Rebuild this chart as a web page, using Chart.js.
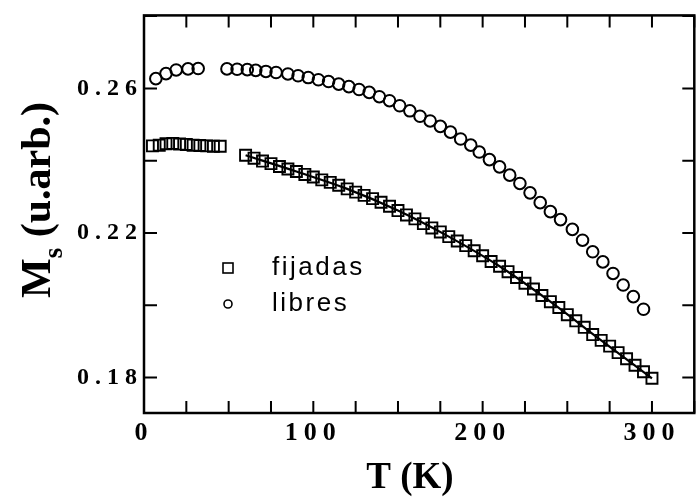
<!DOCTYPE html>
<html>
<head>
<meta charset="utf-8">
<script src="https://cdn.jsdelivr.net/npm/chart.js@4.4.0/dist/chart.umd.min.js"></script>
<style>
  html, body { margin: 0; padding: 0; background: #fff; overflow: hidden; }
</style>
</head>
<body>
<canvas id="grafico" width="704" height="500"></canvas>
<script>
// datos
const T_FIJADAS = [5, 9, 13, 17, 21, 25, 29, 33, 37, 41, 45,
    60, 65, 70, 75, 80, 85, 90, 95, 100, 105, 110, 115, 120, 125, 130, 135,
    140, 145, 150, 155, 160, 165, 170, 175, 180, 185, 190, 195, 200, 205, 210,
    215, 220, 225, 230, 235, 240, 245, 250, 255, 260, 265, 270, 275, 280, 285,
    290, 295, 300];
const M_FIJADAS = [0.2441, 0.2443, 0.2447, 0.2448, 0.2446, 0.2445, 0.2443, 0.2442, 0.2441, 0.2440, 0.2440,
    0.2415, 0.2407, 0.2399, 0.2392, 0.2384, 0.2377, 0.2370, 0.2362, 0.2355, 0.2347, 0.2340, 0.2332, 0.2322, 0.2313, 0.2304, 0.2295,
    0.2285, 0.2274, 0.2262, 0.2250, 0.2239, 0.2226, 0.2214, 0.2203, 0.2190, 0.2178, 0.2165, 0.2151, 0.2137, 0.2121, 0.2108,
    0.2093, 0.2077, 0.2061, 0.2045, 0.2027, 0.2010, 0.1994, 0.1974, 0.1957, 0.1939, 0.1919, 0.1903, 0.1887, 0.1869, 0.1852,
    0.1834, 0.1816, 0.1798];

const T_LIBRES = [7, 13, 19, 26, 32,
    49, 55, 61, 66, 72, 78, 85, 91, 97, 103, 109, 115, 121, 127, 133, 139, 145,
    151, 157, 163, 169, 175, 181, 187, 193, 198, 204, 210, 216, 222, 228, 234,
    240, 246, 253, 259, 265, 271, 277, 283, 289, 295];
const M_LIBRES = [0.2627, 0.2641, 0.2651, 0.2654, 0.2655,
    0.2654, 0.2653, 0.2652, 0.2650, 0.2647, 0.2644, 0.2640, 0.2635, 0.2630, 0.2624, 0.2619, 0.2612, 0.2605, 0.2597, 0.2589, 0.2577, 0.2566,
    0.2552, 0.2538, 0.2523, 0.2510, 0.2495, 0.2479, 0.2460, 0.2443, 0.2424, 0.2403, 0.2383, 0.2360, 0.2337, 0.2311, 0.2284,
    0.2259, 0.2237, 0.2210, 0.2180, 0.2148, 0.2120, 0.2088, 0.2056, 0.2024, 0.1989];

// curva de ajuste sobre las fijadas
const T_AJUSTE = [60, 90, 120, 150, 180, 210, 240, 270, 300];
const M_AJUSTE = [0.2415, 0.2370, 0.2322, 0.2262, 0.2190, 0.2108, 0.2010, 0.1903, 0.1798];

const X_ETIQUETAS = [0, 100, 200, 300];
const Y_ETIQUETAS = [0.18, 0.22, 0.26];

const puntos = (xs, ys) => xs.map((x, i) => ({ x: x, y: ys[i] }));

const SERIF = '"Liberation Serif", "Times New Roman", serif';
const SANS = '"Liberation Sans", Arial, sans-serif';

// marco, marcas hacia dentro, leyenda y titulos
const marcoPlugin = {
    id: 'marco',
    beforeDraw(chart) {
        chart.ctx.letterSpacing = '6px';
    },
    afterDraw(chart) {
        const { ctx, chartArea: a, scales } = chart;
        const sx = scales.x, sy = scales.y;
        ctx.save();
        ctx.letterSpacing = '0px';
        ctx.strokeStyle = '#000';
        ctx.fillStyle = '#000';

        ctx.lineWidth = 2.5;
        ctx.strokeRect(a.left, a.top, a.right - a.left, a.bottom - a.top);

        ctx.lineWidth = 2;
        ctx.beginPath();
        sx.ticks.forEach(t => {
            const px = sx.getPixelForValue(t.value);
            ctx.moveTo(px, a.bottom); ctx.lineTo(px, a.bottom - 12);
            ctx.moveTo(px, a.top); ctx.lineTo(px, a.top + 12);
        });
        sy.ticks.forEach(t => {
            const py = sy.getPixelForValue(t.value);
            ctx.moveTo(a.left, py); ctx.lineTo(a.left + 13, py);
            ctx.moveTo(a.right, py); ctx.lineTo(a.right - 12, py);
        });
        ctx.stroke();

        // leyenda
        const ds = chart.data.datasets;
        ctx.lineWidth = 1.6;
        ctx.strokeRect(228 - 5, 268 - 5, 10, 10);
        ctx.beginPath();
        ctx.arc(228, 304, 4, 0, Math.PI * 2);
        ctx.stroke();
        ctx.font = '26px ' + SANS;
        ctx.letterSpacing = '2.5px';
        ctx.textBaseline = 'middle';
        ctx.textAlign = 'left';
        ctx.fillText(ds[0].label, 272, 268);
        ctx.fillText(ds[1].label, 272, 304);

        // titulo eje x
        ctx.letterSpacing = '0px';
        ctx.textBaseline = 'alphabetic';
        ctx.textAlign = 'center';
        ctx.font = 'bold 37px ' + SERIF;
        ctx.fillText('T (K)', 410, 488);

        // titulo eje y con subindice
        ctx.translate(50, 200);
        ctx.rotate(-Math.PI / 2);
        ctx.textAlign = 'left';
        const fM = 'bold 42px ' + SERIF, fS = 'bold 27px ' + SERIF;
        ctx.font = fM;
        const wM = ctx.measureText('M').width;
        const wR = ctx.measureText(' (u.arb.)').width;
        ctx.font = fS;
        const wS = ctx.measureText('s').width;
        let x0 = -(wM + wS + wR) / 2;
        ctx.font = fM;
        ctx.fillText('M', x0, 0);
        ctx.font = fS;
        ctx.fillText('s', x0 + wM, 12);
        ctx.font = fM;
        ctx.fillText(' (u.arb.)', x0 + wM + wS, 0);
        ctx.restore();
    }
};

new Chart(document.getElementById('grafico'), {
    type: 'scatter',
    data: {
        datasets: [{
            label: 'fijadas',
            data: puntos(T_FIJADAS, M_FIJADAS),
            pointStyle: 'rect',
            pointRadius: 7.8,
            pointBorderWidth: 1.9,
            pointBorderColor: '#000',
            pointBackgroundColor: 'rgba(0,0,0,0)',
            showLine: false
        }, {
            label: 'libres',
            data: puntos(T_LIBRES, M_LIBRES),
            pointStyle: 'circle',
            pointRadius: 5.8,
            pointBorderWidth: 2,
            pointBorderColor: '#000',
            pointBackgroundColor: 'rgba(0,0,0,0)',
            showLine: false
        }, {
            label: 'ajuste',
            data: puntos(T_AJUSTE, M_AJUSTE),
            showLine: true,
            pointRadius: 0,
            borderColor: '#000',
            borderWidth: 2.2,
            cubicInterpolationMode: 'monotone'
        }]
    },
    options: {
        responsive: false,
        animation: false,
        layout: { padding: { top: 15, right: 2, left: 0, bottom: 0 } },
        plugins: {
            legend: { display: false },
            tooltip: { enabled: false }
        },
        scales: {
            x: {
                type: 'linear',
                min: 0,
                max: 325,
                grid: { display: false, drawTicks: false },
                border: { display: false },
                afterFit: s => { s.height = 87; },
                ticks: {
                    stepSize: 25,
                    includeBounds: false,
                    autoSkip: false,
                    maxRotation: 0,
                    padding: 5,
                    color: '#000',
                    font: { family: SERIF, size: 26, weight: 'bold' },
                    callback: v => X_ETIQUETAS.includes(v) ? String(v) : ''
                }
            },
            y: {
                type: 'linear',
                min: 0.1702,
                max: 0.2802,
                grid: { display: false, drawTicks: false },
                border: { display: false },
                afterFit: s => { s.width = 144; },
                ticks: {
                    stepSize: 0.02,
                    includeBounds: false,
                    autoSkip: false,
                    padding: 1,
                    color: '#000',
                    font: { family: SERIF, size: 24, weight: 'bold' },
                    callback: v => Y_ETIQUETAS.some(e => Math.abs(e - v) < 1e-6) ? v.toFixed(2) : ''
                }
            }
        }
    },
    plugins: [marcoPlugin]
});
</script>
</body>
</html>
